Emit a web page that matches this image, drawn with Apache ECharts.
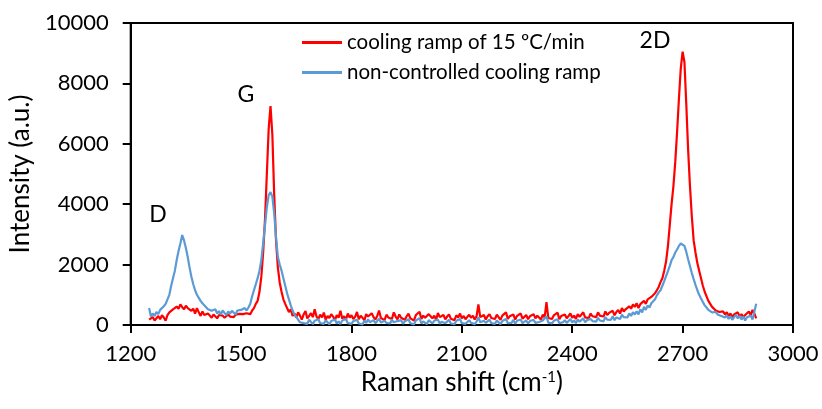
<!DOCTYPE html>
<html>
<head>
<meta charset="utf-8">
<script src="https://cdn.jsdelivr.net/npm/echarts@6/dist/echarts.min.js"></script>
<style>
  html, body { margin: 0; padding: 0; background: #fff; }
  #chart { width: 822px; height: 409px; }
</style>
</head>
<body>
<div id="chart"></div>
<script>
// Raman shift grid (cm^-1)
const ramanShift = [
  1250,1255,1260,1265,1270,1275,1280,1285,1290,1295,
  1300,1305,1310,1315,1320,1325,1330,1335,1340,1345,
  1350,1355,1360,1365,1370,1375,1380,1385,1390,1395,
  1400,1405,1410,1415,1420,1425,1430,1435,1440,1445,
  1450,1455,1460,1465,1470,1475,1480,1485,1490,1495,
  1500,1505,1510,1515,1520,1525,1530,1535,1540,1545,
  1550,1555,1560,1565,1570,1575,1580,1585,1590,1595,
  1600,1605,1610,1615,1620,1625,1630,1635,1640,1645,
  1650,1655,1660,1665,1670,1675,1680,1685,1690,1695,
  1700,1705,1710,1715,1720,1725,1730,1735,1740,1745,
  1750,1755,1760,1765,1770,1775,1780,1785,1790,1795,
  1800,1805,1810,1815,1820,1825,1830,1835,1840,1845,
  1850,1855,1860,1865,1870,1875,1880,1885,1890,1895,
  1900,1905,1910,1915,1920,1925,1930,1935,1940,1945,
  1950,1955,1960,1965,1970,1975,1980,1985,1990,1995,
  2000,2005,2010,2015,2020,2025,2030,2035,2040,2045,
  2050,2055,2060,2065,2070,2075,2080,2085,2090,2095,
  2100,2105,2110,2115,2120,2125,2130,2135,2140,2145,
  2150,2155,2160,2165,2170,2175,2180,2185,2190,2195,
  2200,2205,2210,2215,2220,2225,2230,2235,2240,2245,
  2250,2255,2260,2265,2270,2275,2280,2285,2290,2295,
  2300,2305,2310,2315,2320,2325,2330,2335,2340,2345,
  2350,2355,2360,2365,2370,2375,2380,2385,2390,2395,
  2400,2405,2410,2415,2420,2425,2430,2435,2440,2445,
  2450,2455,2460,2465,2470,2475,2480,2485,2490,2495,
  2500,2505,2510,2515,2520,2525,2530,2535,2540,2545,
  2550,2555,2560,2565,2570,2575,2580,2585,2590,2595,
  2600,2605,2610,2615,2620,2625,2630,2635,2640,2645,
  2650,2655,2660,2665,2670,2675,2680,2685,2690,2695,
  2700,2705,2710,2715,2720,2725,2730,2735,2740,2745,
  2750,2755,2760,2765,2770,2775,2780,2785,2790,2795,
  2800,2805,2810,2815,2820,2825,2830,2835,2840,2845,
  2850,2855,2860,2865,2870,2875,2880,2885,2890,2895,
  2900
];

// Intensity, sample cooled at 15 ºC/min
const cooling15 = [
  180,120,260,150,210,300,190,320,250,140,
  330,420,380,520,470,610,540,680,590,520,
  640,560,600,470,540,380,560,420,300,450,
  330,270,380,310,240,350,290,220,330,270,
  310,240,300,350,280,320,260,340,300,370,
  320,360,330,390,420,360,480,560,700,800,
  1100,1600,2400,3500,5000,6500,7250,6300,4300,2800,
  1900,1400,1100,850,700,560,430,520,300,380,
  250,420,310,180,350,460,220,300,390,260,
  520,280,200,340,250,410,170,300,230,360,
  280,150,330,240,470,210,290,180,380,250,
  320,200,270,430,190,310,240,150,360,280,
  220,390,260,180,300,480,230,270,160,340,
  250,310,200,420,280,190,350,240,300,170,
  290,380,220,260,150,330,270,440,200,310,
  240,180,360,290,220,310,170,400,260,230,
  330,190,280,350,210,270,160,320,250,380,
  220,300,190,270,340,240,310,180,290,680,
  260,210,330,180,290,360,230,270,200,340,
  280,170,310,250,420,200,290,230,350,180,
  300,260,380,210,270,330,190,290,240,360,
  220,310,280,180,340,250,760,230,290,200,
  320,270,410,190,300,250,350,220,280,380,
  240,310,200,360,270,330,420,250,300,230,
  380,290,340,260,420,310,370,280,450,330,
  400,350,470,320,430,500,380,560,450,520,
  480,620,540,680,600,720,560,690,640,800,
  700,850,820,930,980,1050,1150,1260,1420,1550,
  1800,2100,2600,3300,4000,4600,5400,6400,7500,8500,
  9050,8700,7300,5800,4600,3600,2800,2400,2050,1800,
  1550,1300,1100,950,800,700,600,560,480,520,
  430,380,450,350,420,300,380,260,350,300,
  420,280,360,250,330,280,450,320,500,380,
  220
];

// Intensity, sample with non-controlled cooling
const nonControlled = [
  560,280,380,300,430,360,500,450,620,700,
  850,1000,1300,1550,1800,2150,2450,2700,2980,2800,
  2550,2250,1900,1600,1350,1150,1000,900,800,720,
  650,600,520,580,470,420,520,380,460,350,
  480,400,330,450,380,470,420,350,480,430,
  500,440,560,480,580,700,950,1150,1350,1550,
  1800,2150,2700,3300,3900,4300,4400,4250,3700,2900,
  2250,2000,1800,1550,1300,1050,850,650,480,350,
  270,180,90,150,60,120,40,180,100,30,
  140,80,190,60,110,40,160,90,20,130,
  70,180,50,120,30,150,90,200,60,110,
  40,130,80,170,50,100,20,140,70,190,
  90,40,160,60,120,210,80,30,140,70,
  110,50,180,90,30,130,70,160,40,120,
  80,190,60,100,20,150,90,230,50,120,
  70,30,160,100,50,140,80,180,40,110,
  130,60,100,170,50,90,30,140,80,200,
  60,120,40,100,160,70,130,30,110,260,
  90,50,140,70,110,180,60,100,40,150,
  110,30,130,80,200,60,120,70,170,40,
  140,90,180,60,100,150,50,130,80,170,
  70,120,100,40,150,90,290,80,130,50,
  140,100,190,60,120,90,160,70,110,200,
  80,150,60,180,110,140,220,90,160,100,
  200,130,170,110,240,150,200,120,260,180,
  230,170,290,160,250,310,200,340,260,300,
  250,380,300,420,350,450,350,520,420,600,
  500,650,580,720,780,850,980,1080,1150,1300,
  1450,1620,1780,1950,2150,2250,2400,2500,2620,2700,
  2760,2620,2420,2180,1950,1720,1520,1330,1150,1000,
  880,760,650,580,500,450,420,380,430,350,
  400,300,360,250,320,200,290,170,260,330,
  220,300,180,280,150,260,200,310,180,150,
  700
];

const seriesNames = ['cooling ramp of 15 ºC/min', 'non-controlled cooling ramp'];
const seriesColors = ['#FF0000', '#5B9BD5'];
const bandLabels = ['D', 'G', '2D'];

const FONT = 'Lato, "Open Sans", sans-serif';
const chart = echarts.init(document.getElementById('chart'), null, { renderer: 'canvas' });

const pairs = (ys) => ramanShift.map((x, i) => [x, ys[i]]);
const plain = (v) => String(v);

chart.setOption({
  animation: false,
  backgroundColor: '#fff',
  grid: {
    left: 130.5, right: 29, top: 23, bottom: 84,
    show: true, borderColor: '#000', borderWidth: 2, backgroundColor: 'transparent'
  },
  legend: {
    orient: 'vertical',
    left: 302, top: 32,
    itemWidth: 40, itemHeight: 3, itemGap: 9,
    padding: 0,
    data: seriesNames.map(n => ({ name: n, icon: 'rect' })),
    textStyle: { color: '#000', fontSize: 20.5, fontFamily: FONT }
  },
  xAxis: {
    type: 'value', min: 1200, max: 3000, interval: 300,
    axisLine: { show: true, onZero: false, lineStyle: { color: '#000', width: 2 } },
    axisTick: { show: true, length: 8, lineStyle: { color: '#000', width: 2 } },
    axisLabel: { color: '#000', fontSize: 22, fontFamily: FONT, margin: 18, formatter: plain },
    splitLine: { show: false },
    name: 'Raman shift (cm{sup|-1})',
    nameLocation: 'middle', nameGap: 44,
    nameTextStyle: {
      color: '#000', fontSize: 26, fontFamily: FONT,
      rich: { sup: { fontSize: 15, fontFamily: FONT, color: '#000', verticalAlign: 'top' } }
    }
  },
  yAxis: {
    type: 'value', min: 0, max: 10000, interval: 2000,
    axisLine: { show: true, lineStyle: { color: '#000', width: 2 } },
    axisTick: { show: true, length: 8, lineStyle: { color: '#000', width: 2 } },
    axisLabel: { color: '#000', fontSize: 22, fontFamily: FONT, margin: 22, formatter: plain },
    splitLine: { show: false },
    name: 'Intensity (a.u.)',
    nameLocation: 'middle', nameGap: 91, nameRotate: 90,
    nameTextStyle: { color: '#000', fontSize: 26, fontFamily: FONT }
  },
  graphic: [
    { type: 'text', x: 158, y: 215, style: { text: bandLabels[0], fontSize: 23, fontFamily: FONT, fill: '#000', align: 'center', verticalAlign: 'middle' } },
    { type: 'text', x: 246, y: 95, style: { text: bandLabels[1], fontSize: 23, fontFamily: FONT, fill: '#000', align: 'center', verticalAlign: 'middle' } },
    { type: 'text', x: 655, y: 41, style: { text: bandLabels[2], fontSize: 23, fontFamily: FONT, fill: '#000', align: 'center', verticalAlign: 'middle' } }
  ],
  series: [
    {
      type: 'line', name: seriesNames[0], data: pairs(cooling15),
      symbol: 'none', showSymbol: false,
      lineStyle: { color: seriesColors[0], width: 2.2 },
      itemStyle: { color: seriesColors[0] }
    },
    {
      type: 'line', name: seriesNames[1], data: pairs(nonControlled),
      symbol: 'none', showSymbol: false,
      lineStyle: { color: seriesColors[1], width: 2.2 },
      itemStyle: { color: seriesColors[1] }
    }
  ]
});
</script>
</body>
</html>
